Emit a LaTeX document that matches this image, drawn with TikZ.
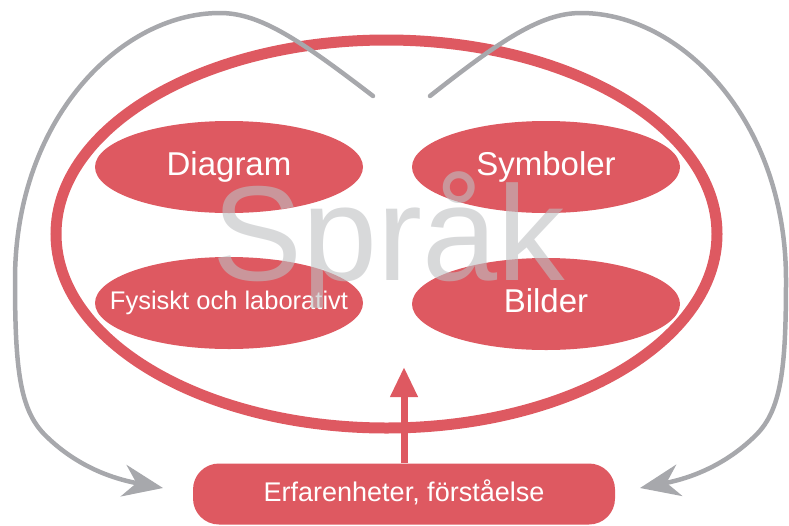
\documentclass[tikz,border=0pt]{standalone}
\usepackage{fontspec}
\setmainfont{Liberation Sans}
\usetikzlibrary{shapes.geometric,arrows.meta}
\definecolor{rd}{RGB}{222,89,97}
\definecolor{gr}{RGB}{167,168,172}
\definecolor{sp}{RGB}{190,192,194}
\begin{document}
\begin{tikzpicture}[x=1pt,y=-1pt,
  blob/.style={ellipse, fill=rd, minimum width=268pt, minimum height=92pt, inner sep=0pt,
    text=white, font=\fontsize{33}{36}\selectfont, text height=24pt, text depth=7pt},
  smallblob/.style={blob, inner xsep=-45pt, font=\fontsize{25.5}{28}\selectfont, text height=18.6pt, text depth=5.4pt},
  loop/.style={draw=gr, line width=4.5pt, line cap=round, -{Stealth[length=40pt,width=32pt,inset=13pt]}},
  uparrow/.style={draw=rd, line width=7pt, -{Triangle[length=30pt,width=26pt]}}]
\useasboundingbox (0,0) rectangle (789,525);
% outer language ellipse
\node[ellipse, draw=rd, line width=11pt, minimum width=661pt, minimum height=388pt, inner sep=0pt] (lang) at (386.5,234) {};
% inner ellipses
\node[blob] (diag) at (229,167) {Diagram};
\node[blob] (symb) at (546,167) {Symboler};
\node[smallblob] (fys) at (229,303) {Fysiskt och laborativt};
\node[blob] (bild) at (546,304) {Bilder};
% title
\node[anchor=base, text=sp, text opacity=0.6, font=\fontsize{135}{140}\selectfont, inner sep=0pt] (title) at (389,280) {Språk};
% bottom box
\node[rounded corners=26pt, fill=rd, minimum width=422pt, minimum height=61pt, inner sep=0pt,
  text=white, font=\fontsize{27}{30}\selectfont, text height=19.7pt, text depth=5.7pt] (exp) at (404,494) {Erfarenheter, förståelse};
% coordinates
\coordinate (gL) at (373,96);
\coordinate (gR) at (430,96);
\coordinate (inL) at (163,488);
\coordinate (inR) at (640,488);
\coordinate (up) at (404,367);
% red arrow
\draw[uparrow] (exp.north) -- (up);
% gray loops
\draw[loop] (gL) .. controls (300,40) and (260,13) .. (220,13)
  .. controls (120,13) and (15,120) .. (15,280)
  .. controls (15,370) and (20,410) .. (45,435)
  .. controls (80,470) and (120,480) .. (inL);
\draw[loop] (gR) .. controls (501,40) and (541,13) .. (581,13)
  .. controls (681,13) and (786,120) .. (786,280)
  .. controls (786,370) and (781,410) .. (756,435)
  .. controls (721,470) and (681,480) .. (inR);
\end{tikzpicture}
\end{document}
